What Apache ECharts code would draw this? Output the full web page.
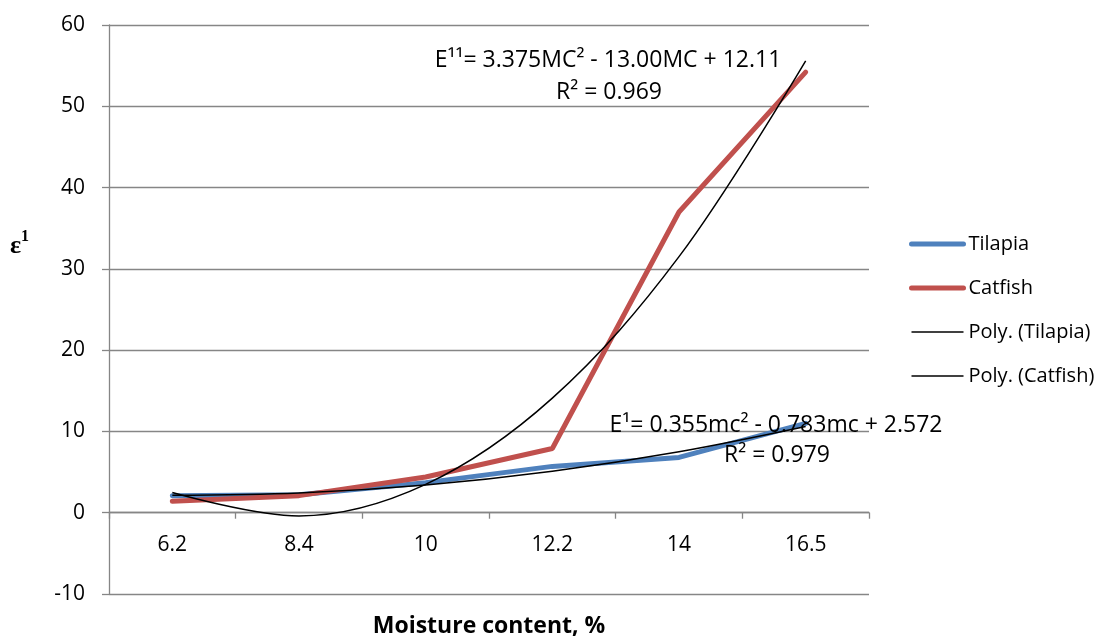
<!DOCTYPE html>
<html>
<head>
<meta charset="utf-8">
<script src="https://cdn.jsdelivr.net/npm/echarts@6/dist/echarts.min.js"></script>
<style>
html,body{margin:0;padding:0;background:#fff;}
#chart{width:1097px;height:637px;}
</style>
</head>
<body>
<div id="chart"></div>
<script>
const categories = ['6.2', '8.4', '10', '12.2', '14', '16.5'];
const tilapia = [2.1, 2.2, 3.7, 5.7, 6.8, 11.0];
const catfish = [1.4, 2.1, 4.4, 7.9, 37.0, 54.2];
const polyTilapia = [2.14, 2.42, 3.40, 5.09, 7.49, 10.6];
const polyCatfish = [2.49, -0.39, 3.49, 14.1, 31.5, 55.6];
const yTicks = { min: -10, max: 60, interval: 10 };
const eqCatfish = 'E¹¹= 3.375MC² - 13.00MC + 12.11';
const r2Catfish = 'R² = 0.969';
const eqTilapia = 'E¹= 0.355mc² - 0.783mc + 2.572';
const r2Tilapia = 'R² = 0.979';

const FONT = 'Open Sans';
const AXIS_GRAY = '#868686';
const BLUE = '#4F81BD';
const RED = '#C0504D';
const chart = echarts.init(document.getElementById('chart'));
chart.setOption({
  animation: false,
  backgroundColor: '#fff',
  grid: { left: 109, right: 228, top: 25, bottom: 43 },
  legend: {
    orient: 'vertical',
    left: 904,
    top: 229,
    itemWidth: 52,
    itemHeight: 14,
    itemGap: 24,
    itemStyle: { opacity: 0 },
    textStyle: { fontFamily: FONT, fontSize: 20, color: '#000' },
    data: [
      { name: 'Tilapia', lineStyle: { width: 5, color: BLUE, cap: 'round' } },
      { name: 'Catfish', lineStyle: { width: 5, color: RED, cap: 'round' } },
      { name: 'Poly. (Tilapia)', lineStyle: { width: 1.5, color: '#000' } },
      { name: 'Poly. (Catfish)', lineStyle: { width: 1.5, color: '#000' } }
    ]
  },
  xAxis: [
    {
      type: 'category',
      data: categories,
      boundaryGap: true,
      axisLine: { onZero: true, lineStyle: { color: AXIS_GRAY, width: 1.3 } },
      axisTick: { show: true, length: 6, lineStyle: { color: AXIS_GRAY, width: 1.3 } },
      axisLabel: { show: false },
      splitLine: { show: false }
    },
    {
      type: 'category',
      data: categories,
      boundaryGap: true,
      position: 'bottom',
      offset: -82,
      axisLine: { show: false, onZero: false },
      axisTick: { show: false },
      axisLabel: { fontFamily: FONT, fontSize: 21, color: '#000', margin: 23 },
      splitLine: { show: false }
    }
  ],
  yAxis: {
    type: 'value',
    min: yTicks.min, max: yTicks.max, interval: yTicks.interval,
    axisLine: { show: true, lineStyle: { color: AXIS_GRAY, width: 1.3 } },
    axisTick: { show: true, length: 7, lineStyle: { color: AXIS_GRAY, width: 1.3 } },
    axisLabel: { fontFamily: FONT, fontSize: 21, color: '#000', margin: 24 },
    splitLine: { show: true, lineStyle: { color: AXIS_GRAY, width: 1.3 } }
  },
  series: [
    { name: 'Tilapia', type: 'line', data: tilapia, symbol: 'none', color: BLUE,
      lineStyle: { width: 5, color: BLUE, cap: 'round' }, z: 2 },
    { name: 'Catfish', type: 'line', data: catfish, symbol: 'none', color: RED,
      lineStyle: { width: 5, color: RED, cap: 'round' }, z: 2 },
    { name: 'Poly. (Tilapia)', type: 'line', data: polyTilapia, symbol: 'none', smooth: 0.35, color: '#000',
      lineStyle: { width: 1.5, color: '#000' }, z: 3 },
    { name: 'Poly. (Catfish)', type: 'line', data: polyCatfish, symbol: 'none', smooth: 0.35, color: '#000',
      lineStyle: { width: 1.5, color: '#000' }, z: 3 }
  ],
  graphic: [
    { type: 'text', left: 10, top: 229, z: 100,
      style: { text: '{e|ε}{s|1}', rich: {
        e: { fontFamily: 'Liberation Serif', fontWeight: 'bold', fontSize: 26, fill: '#000', verticalAlign: 'bottom', lineHeight: 30 },
        s: { fontFamily: 'Liberation Serif', fontWeight: 'bold', fontSize: 16, fill: '#000', verticalAlign: 'top', lineHeight: 30 }
      } } },
    { type: 'text', x: 489, y: 626, z: 100,
      style: { text: 'Moisture content, %', fontFamily: FONT, fontWeight: 'bold', fontSize: 23, fill: '#000', align: 'center', verticalAlign: 'middle' } },
    { type: 'text', x: 608, y: 60, z: 100,
      style: { text: eqCatfish, fontFamily: FONT, fontSize: 23, fill: '#000', align: 'center', verticalAlign: 'middle' } },
    { type: 'text', x: 609, y: 92, z: 100,
      style: { text: r2Catfish, fontFamily: FONT, fontSize: 23, fill: '#000', align: 'center', verticalAlign: 'middle' } },
    { type: 'text', x: 776, y: 425, z: 100,
      style: { text: eqTilapia, fontFamily: FONT, fontSize: 23, fill: '#000', align: 'center', verticalAlign: 'middle' } },
    { type: 'text', x: 777, y: 455, z: 100,
      style: { text: r2Tilapia, fontFamily: FONT, fontSize: 23, fill: '#000', align: 'center', verticalAlign: 'middle' } }
  ]
});
</script>
</body>
</html>
